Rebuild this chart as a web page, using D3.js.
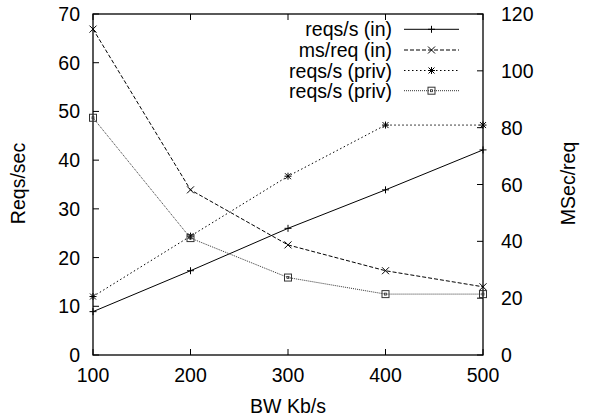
<!DOCTYPE html>
<html><head><meta charset="utf-8">
<script src="https://cdn.jsdelivr.net/npm/d3@7"></script>
<style>body{margin:0;background:#fff}svg{display:block}text{font-family:"Liberation Sans",Arial,sans-serif;fill:#000}</style>
</head><body><svg id="c" width="589" height="420"></svg>
<script>
const bw = [100, 200, 300, 400, 500];
const reqsIn = [8.9, 17.3, 26.0, 33.9, 42.1];
const msIn = [66.9, 33.9, 22.6, 17.3, 14.0];
const reqsPriv = [12.0, 24.4, 36.7, 47.2, 47.2];
const reqsPriv2 = [48.7, 24.0, 15.9, 12.5, 12.5];
const seriesNames = ["reqs/s (in)", "ms/req (in)", "reqs/s (priv)", "reqs/s (priv)"];
const xTicks = [100, 200, 300, 400, 500];
const yTicks = [0, 10, 20, 30, 40, 50, 60, 70];
const y2Ticks = [0, 20, 40, 60, 80, 100, 120];

const svg = d3.select("#c");
const L = 93, R = 483, T = 14, B = 355;
const fs = 19.5;
const x = d3.scaleLinear().domain([100, 500]).range([L, R]);
const y = d3.scaleLinear().domain([0, 70]).range([B, T]);
const y2 = d3.scaleLinear().domain([0, 120]).range([B, T]);

// ticks
const g = svg.append("g").attr("stroke", "#000").attr("stroke-width", 1);
xTicks.forEach(v => {
  g.append("line").attr("x1", x(v)).attr("x2", x(v)).attr("y1", B).attr("y2", B - 6);
  g.append("line").attr("x1", x(v)).attr("x2", x(v)).attr("y1", T).attr("y2", T + 6);
});
yTicks.forEach(v => g.append("line").attr("x1", L).attr("x2", L + 6).attr("y1", y(v)).attr("y2", y(v)));
y2Ticks.forEach(v => g.append("line").attr("x1", R).attr("x2", R - 6).attr("y1", y2(v)).attr("y2", y2(v)));

// tick labels
xTicks.forEach(v => svg.append("text").attr("x", x(v)).attr("y", 382).attr("text-anchor", "middle").attr("font-size", fs).text(v));
yTicks.forEach(v => svg.append("text").attr("x", 80).attr("y", y(v)).attr("dy", "0.36em").attr("text-anchor", "end").attr("font-size", fs).text(v));
y2Ticks.forEach(v => svg.append("text").attr("x", 501).attr("y", y2(v)).attr("dy", "0.36em").attr("text-anchor", "start").attr("font-size", fs).text(v));

// axis titles
svg.append("text").attr("x", (L + R) / 2).attr("y", 413).attr("text-anchor", "middle").attr("font-size", fs).text("BW Kb/s");
svg.append("text").attr("transform", `translate(25,${(T + B) / 2 - 1}) rotate(-90)`).attr("text-anchor", "middle").attr("font-size", fs).text("Reqs/sec");
svg.append("text").attr("transform", `translate(574.5,${(T + B) / 2 - 1}) rotate(-90)`).attr("text-anchor", "middle").attr("font-size", fs).text("MSec/req");

// border
svg.append("rect").attr("x", L).attr("y", T).attr("width", R - L).attr("height", B - T).attr("fill", "none").attr("stroke", "#000").attr("stroke-width", 1.3);

const styles = [
  { dash: null, color: "#000", marker: "plus" },
  { dash: "4,2", color: "#000", marker: "cross" },
  { dash: "1.5,2.5", color: "#000", marker: "star" },
  { dash: "1,1", color: "#333", marker: "square" }
];
const data = [reqsIn, msIn, reqsPriv, reqsPriv2];

function marker(sel, type, cx, cy, color) {
  const s = 3.5;
  const mg = sel.append("g").attr("stroke", color).attr("stroke-width", 1).attr("fill", "none");
  if (type === "plus" || type === "star") {
    mg.append("line").attr("x1", cx - s).attr("x2", cx + s).attr("y1", cy).attr("y2", cy);
    mg.append("line").attr("x1", cx).attr("x2", cx).attr("y1", cy - s).attr("y2", cy + s);
  }
  if (type === "cross" || type === "star") {
    const d = type === "star" ? 3 : 3.5;
    mg.append("line").attr("x1", cx - d).attr("x2", cx + d).attr("y1", cy - d).attr("y2", cy + d);
    mg.append("line").attr("x1", cx - d).attr("x2", cx + d).attr("y1", cy + d).attr("y2", cy - d);
  }
  if (type === "square") {
    mg.append("rect").attr("x", cx - 3.5).attr("y", cy - 3.5).attr("width", 7).attr("height", 7);
    mg.append("rect").attr("x", cx - 1).attr("y", cy - 1).attr("width", 2).attr("height", 2).attr("stroke-width", 0.8);
  }
}

const line = d3.line().x(d => x(d[0])).y(d => y(d[1]));
data.forEach((vals, i) => {
  const st = styles[i];
  const pts = bw.map((b, j) => [b, vals[j]]);
  svg.append("path").attr("d", line(pts)).attr("fill", "none").attr("stroke", st.color)
    .attr("stroke-width", 1).attr("stroke-dasharray", st.dash);
  pts.forEach(p => marker(svg, st.marker, x(p[0]), y(p[1]), st.color));
});

// legend
const legY = [29.3, 50, 70.5, 90.7];
seriesNames.forEach((n, i) => {
  const st = styles[i];
  svg.append("text").attr("x", 392).attr("y", legY[i]).attr("dy", "0.36em").attr("text-anchor", "end").attr("font-size", fs).text(n);
  svg.append("line").attr("x1", 404).attr("x2", 459).attr("y1", legY[i]).attr("y2", legY[i])
    .attr("stroke", st.color).attr("stroke-width", 1).attr("stroke-dasharray", st.dash);
  marker(svg, st.marker, 431.5, legY[i], st.color);
});
</script></body></html>
